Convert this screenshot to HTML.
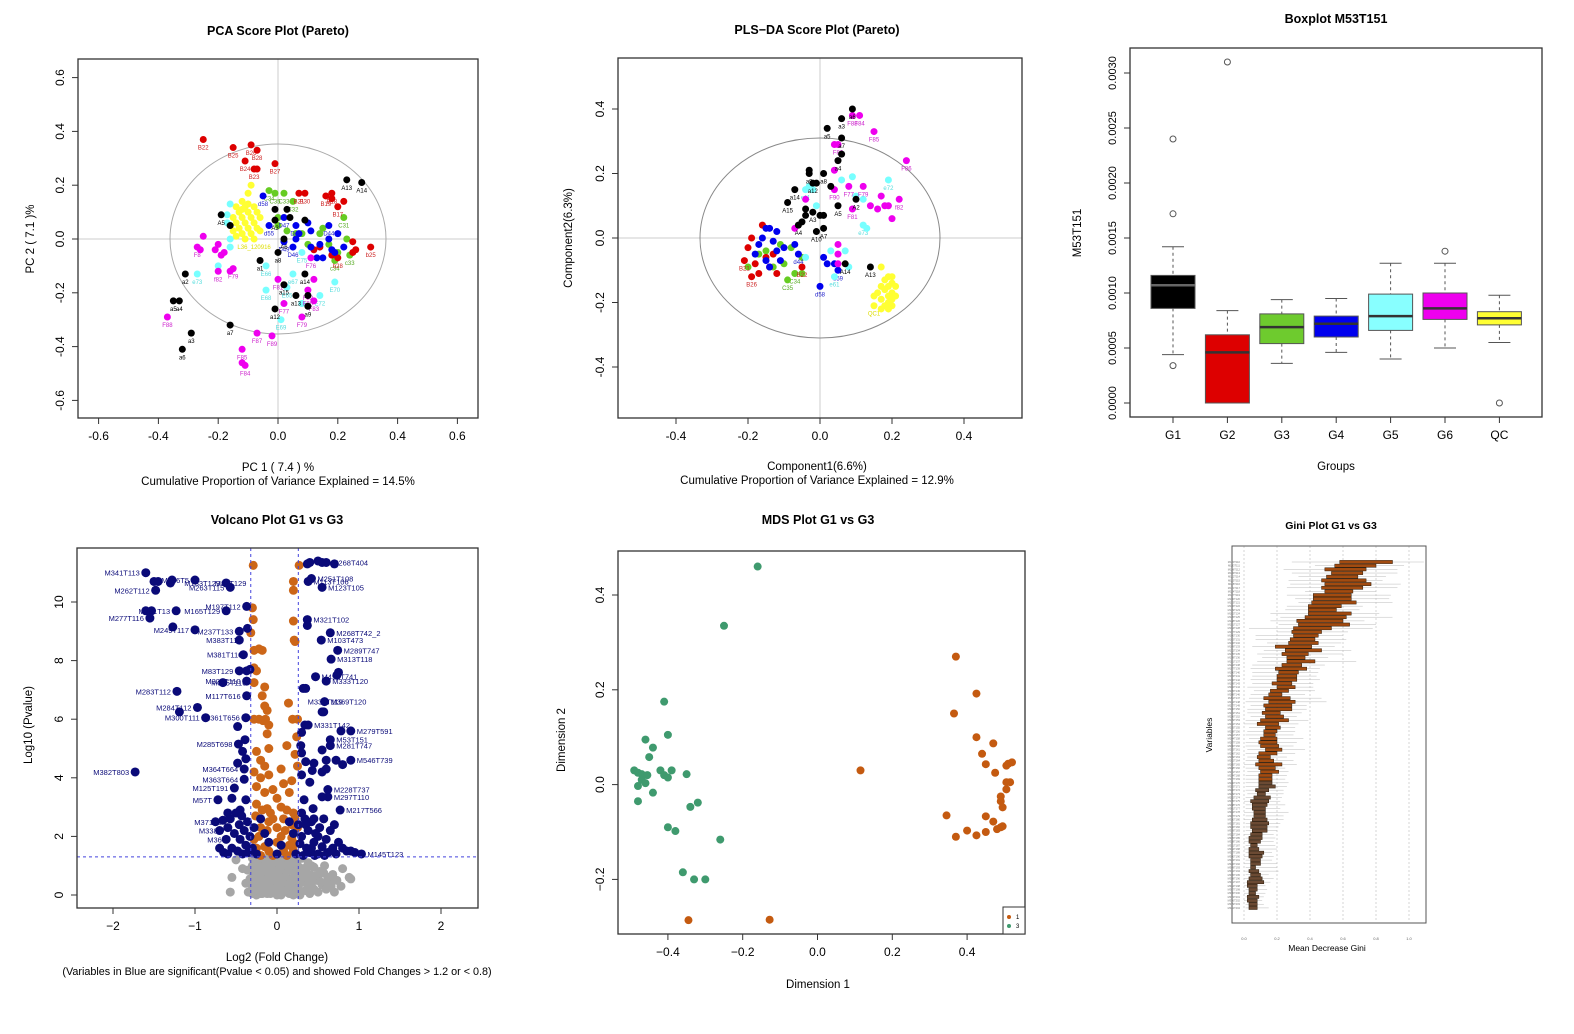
<!DOCTYPE html>
<html><head><meta charset="utf-8"><style>
html,body{margin:0;padding:0;background:#fff;}
svg{display:block;font-family:"Liberation Sans",Arial,sans-serif;}
</style></head><body>
<svg id="fig" width="1574" height="1034" viewBox="0 0 1574 1034" xmlns="http://www.w3.org/2000/svg"></svg>
<script>
// ===== PCA data [x,y,label] =====
const pcaBlack=[[0.23,0.22,'A13'],[0.28,0.21,'A14'],[-0.19,0.09,'A5'],[-0.16,0.05,''],[-0.01,0.11,''],[0.03,0.11,''],[0.04,0.08,''],[0.09,0.07,''],[-0.01,0.07,'A3'],[0.0,-0.05,'a8'],[-0.06,-0.08,'a1'],[-0.31,-0.13,'a2'],[-0.35,-0.23,'a5'],[-0.33,-0.23,'a4'],[-0.29,-0.35,'a3'],[-0.32,-0.41,'a6'],[-0.16,-0.32,'a7'],[0.09,-0.13,'a14'],[0.02,-0.17,'a15'],[0.06,-0.21,'a13'],[-0.01,-0.26,'a12'],[0.1,-0.25,'a9'],[0.1,-0.21,''],[0.02,0.0,'A6']];
const pcaRed=[[-0.25,0.37,'B22'],[-0.15,0.34,'B25'],[-0.09,0.35,'B26'],[-0.07,0.33,'B28'],[-0.11,0.29,'B24'],[-0.08,0.26,'B23'],[-0.07,0.26,''],[-0.01,0.28,'B27'],[0.07,0.17,'B21'],[0.09,0.17,'B30'],[0.16,0.16,'B19'],[0.18,0.17,'B18'],[0.18,0.15,''],[0.2,0.12,'B17'],[0.22,0.14,''],[0.31,-0.03,'b25'],[0.25,-0.01,''],[0.26,-0.04,''],[0.2,-0.07,'b28'],[0.18,-0.06,''],[0.14,-0.03,''],[0.12,-0.04,''],[0.25,-0.05,'']];
const pcaGreen=[[-0.03,0.18,'C34'],[-0.01,0.17,'C35'],[0.02,0.17,'C33'],[0.05,0.14,'C32'],[0.22,0.08,'C31'],[0.0,0.08,''],[0.0,0.05,''],[0.03,0.03,''],[0.08,0.02,''],[0.15,0.04,''],[0.14,0.02,''],[0.23,0.0,''],[0.19,-0.08,'c34'],[0.2,-0.05,''],[0.24,-0.06,'c33'],[0.1,-0.02,''],[0.17,-0.02,''],[0.06,0.02,'']];
const pcaBlue=[[-0.05,0.16,'d58'],[-0.03,0.05,'d55'],[0.02,0.08,'D47'],[0.06,0.05,'D48'],[0.07,0.02,''],[0.1,0.06,''],[0.11,0.03,''],[0.06,0.0,''],[0.17,0.05,'D44'],[0.2,0.02,''],[0.17,0.0,''],[0.18,-0.04,''],[0.22,-0.03,''],[0.14,-0.02,''],[0.11,-0.03,''],[0.02,-0.01,'D49'],[0.05,-0.03,'D46'],[0.15,-0.07,''],[0.13,-0.07,''],[0.19,-0.05,'']];
const pcaCyan=[[-0.16,0.13,''],[-0.17,0.09,''],[-0.17,0.06,''],[-0.16,0.0,''],[-0.16,-0.03,''],[-0.27,-0.13,'e73'],[-0.04,-0.1,'E66'],[-0.04,-0.19,'E68'],[0.05,-0.13,'e67'],[0.03,-0.18,'E65'],[0.01,-0.3,'E69'],[0.19,-0.16,'E70'],[0.14,-0.21,'E72'],[0.08,-0.24,''],[0.08,-0.05,'E75'],[-0.2,-0.1,'']];
const pcaMagenta=[[-0.25,0.01,''],[-0.27,-0.03,'F8'],[-0.26,-0.04,''],[-0.2,-0.02,''],[-0.21,-0.04,''],[-0.19,-0.06,''],[-0.18,-0.05,''],[-0.2,-0.12,'f82'],[-0.15,-0.11,'F79'],[-0.16,-0.12,''],[-0.37,-0.29,'F88'],[-0.07,-0.35,'F87'],[-0.02,-0.36,'F89'],[-0.12,-0.41,'F85'],[-0.12,-0.46,''],[-0.11,-0.47,'F84'],[0.0,-0.15,'F81'],[0.02,-0.24,'F77'],[0.12,-0.15,''],[0.1,-0.19,'F82'],[0.12,-0.23,'F83'],[0.08,-0.29,'F79'],[0.1,-0.21,'F80'],[0.11,-0.07,'F76']];
const pcaYellow=[[-0.09,0.2,''],[-0.1,0.17,''],[-0.12,0.14,''],[-0.14,0.12,''],[-0.11,0.12,''],[-0.08,0.12,''],[-0.13,0.1,''],[-0.1,0.1,''],[-0.07,0.1,''],[-0.15,0.08,''],[-0.12,0.08,''],[-0.09,0.08,''],[-0.06,0.08,''],[-0.14,0.06,''],[-0.11,0.06,''],[-0.08,0.06,''],[-0.13,0.04,''],[-0.1,0.04,''],[-0.07,0.04,''],[-0.15,0.03,''],[-0.12,0.02,''],[-0.09,0.02,''],[-0.06,0.03,''],[-0.14,0.01,''],[-0.11,0.0,''],[-0.08,0.0,'L36_120916'],[-0.12,0.11,''],[-0.1,0.13,'']];

// ===== PLS-DA data =====
const plsBlack=[[0.09,0.4,'a6'],[0.06,0.37,'a3'],[0.02,0.34,'a5'],[0.06,0.31,'a7'],[0.06,0.26,''],[0.05,0.24,'a4'],[-0.03,0.2,'a9'],[-0.03,0.21,''],[0.01,0.2,'a8'],[0.03,0.16,''],[-0.07,0.15,'a14'],[-0.09,0.11,'A15'],[-0.04,0.09,''],[-0.04,0.07,''],[-0.02,0.08,'A3'],[0.0,0.07,''],[0.01,0.07,''],[0.05,0.1,'A5'],[0.1,0.12,'A2'],[-0.05,0.05,''],[-0.06,0.04,'A4'],[-0.01,0.02,'A10'],[0.01,0.03,'A7'],[-0.01,0.17,''],[0.14,-0.09,'A13'],[0.07,-0.08,'A14'],[-0.02,0.17,'a12']];
const plsMagenta=[[0.09,0.38,'F88'],[0.11,0.38,'F84'],[0.15,0.33,'F85'],[0.24,0.24,'F86'],[0.04,0.29,''],[0.05,0.29,'F80'],[0.04,0.21,''],[0.04,0.15,'F90'],[0.08,0.16,'F77'],[0.12,0.16,'F79'],[0.09,0.09,'F81'],[0.17,0.13,''],[0.18,0.1,''],[0.16,0.09,''],[0.19,0.1,''],[0.22,0.12,'f82'],[0.2,0.06,''],[0.14,0.1,''],[-0.04,0.12,''],[-0.07,0.03,''],[0.05,-0.02,''],[0.05,-0.05,''],[0.05,-0.08,'']];
const plsCyan=[[-0.03,0.16,''],[-0.02,0.15,''],[0.06,0.18,''],[0.09,0.19,''],[0.19,0.18,'e72'],[0.1,0.13,''],[0.12,0.12,''],[0.12,0.04,'e73'],[0.13,0.03,''],[-0.01,0.1,''],[-0.04,0.15,'e11'],[0.03,-0.04,''],[0.07,-0.04,''],[0.04,-0.12,'e61'],[0.08,-0.09,''],[-0.04,-0.06,'']];
const plsBlue=[[-0.15,0.03,''],[-0.14,0.03,''],[-0.12,0.02,''],[-0.16,0.0,''],[-0.13,-0.01,''],[-0.1,-0.03,''],[-0.07,-0.02,''],[-0.18,-0.05,''],[-0.11,-0.07,''],[-0.15,-0.07,''],[-0.14,-0.09,''],[0.01,-0.06,''],[0.02,-0.08,''],[0.04,-0.08,''],[0.05,-0.1,'d59'],[0.0,-0.15,'d58'],[-0.06,-0.05,'d44'],[-0.17,-0.02,''],[-0.12,-0.04,'']];
const plsRed=[[-0.16,0.04,''],[-0.19,0.0,''],[-0.2,-0.03,''],[-0.21,-0.07,'B21'],[-0.18,-0.08,''],[-0.19,-0.12,'B26'],[-0.17,-0.11,''],[-0.14,-0.09,''],[-0.12,-0.11,''],[-0.15,-0.06,''],[-0.05,-0.09,'B22'],[-0.13,-0.05,'']];
const plsGreen=[[-0.17,-0.05,''],[-0.15,-0.04,''],[-0.11,-0.02,''],[-0.08,-0.03,''],[-0.05,-0.06,''],[-0.07,-0.11,'C34'],[-0.05,-0.11,''],[-0.09,-0.13,'C35'],[-0.2,-0.09,''],[-0.13,-0.09,''],[-0.1,-0.08,'']];
const plsYellow=[[0.17,-0.09,''],[0.19,-0.12,''],[0.2,-0.12,''],[0.18,-0.13,''],[0.2,-0.14,''],[0.19,-0.15,''],[0.17,-0.15,''],[0.21,-0.15,''],[0.18,-0.16,''],[0.2,-0.17,''],[0.16,-0.17,''],[0.19,-0.18,''],[0.21,-0.18,''],[0.17,-0.19,''],[0.19,-0.2,''],[0.15,-0.21,'QC1'],[0.18,-0.21,''],[0.2,-0.21,''],[0.17,-0.22,''],[0.19,-0.22,''],[0.15,-0.18,''],[0.2,-0.19,'']];

// ===== Boxplot data =====
const boxGroups=['G1','G2','G3','G4','G5','G6','QC'];
const boxQ1=[0.00086,0.0,0.00054,0.00060,0.00066,0.00076,0.00071];
const boxMed=[0.00107,0.00046,0.00069,0.00072,0.00079,0.00086,0.00077];
const boxQ3=[0.00116,0.00062,0.00081,0.00079,0.00099,0.00100,0.00083];
const boxWLo=[0.00044,0.0,0.00036,0.00046,0.00040,0.00050,0.00055];
const boxWHi=[0.00142,0.00084,0.00094,0.00095,0.00127,0.00127,0.00098];
const boxOutGroup=[0,0,0,1,5,6];
const boxOutVal=[0.0024,0.00172,0.00034,0.0031,0.00138,0.0];
const boxColors=['#000000','#dd0000','#6ecb2e','#0000ee','#88ffff','#ee00ee','#ffff33'];
const boxYTicks=[0,0.0005,0.001,0.0015,0.002,0.0025,0.003];
const boxYTickLabels=['0.0000','0.0005','0.0010','0.0015','0.0020','0.0025','0.0030'];

// ===== Volcano data =====
const volSig=[-1.6,11.0,-1.5,10.7,-1.45,10.7,-1.3,10.65,-1.28,10.75,-1.0,10.75,-0.62,10.65,-0.57,10.5,-1.48,10.4,0.37,11.3,0.4,11.35,0.5,11.4,0.55,11.35,0.6,11.35,0.7,11.3,0.42,10.8,0.38,10.7,0.55,10.5,-0.37,9.85,-1.6,9.7,-1.53,9.7,-1.23,9.7,-0.62,9.7,-1.55,9.45,-1.27,9.15,-1.0,9.05,-0.46,9.0,-0.36,9.1,0.37,9.4,0.37,9.2,0.65,8.95,0.54,8.7,-0.46,8.7,0.74,8.35,-0.41,8.2,0.66,8.05,-0.46,7.65,-0.37,7.65,-0.33,7.7,-0.37,7.3,-0.66,7.25,0.47,7.45,0.6,7.3,0.75,7.6,0.73,7.5,0.32,7.05,0.35,7.05,-1.22,6.95,-0.37,6.8,0.58,6.6,-0.97,6.4,-1.19,6.25,-0.87,6.05,-0.38,6.05,0.55,6.25,0.57,6.25,-0.48,5.75,0.34,5.8,0.38,5.8,0.3,5.55,0.78,5.6,0.9,5.6,0.65,5.3,-0.47,5.15,-0.39,5.3,0.65,5.1,-0.42,4.9,0.29,5.1,0.55,4.95,0.3,4.85,-0.38,4.65,-0.48,4.5,0.35,4.55,0.45,4.5,0.6,4.6,0.72,4.6,0.9,4.6,0.8,4.45,-1.73,4.2,-0.4,4.3,0.43,4.25,0.55,4.2,0.6,4.3,0.3,4.1,-0.4,3.95,0.4,3.85,-0.52,3.65,0.62,3.6,0.62,3.35,0.55,3.35,-0.55,3.3,-0.72,3.25,-0.38,3.25,0.33,3.25,0.44,2.95,0.77,2.9,
-0.75,2.5,-0.7,2.2,-0.66,2.55,-0.62,1.9,-0.6,2.3,-0.57,2.6,-0.55,1.6,-0.52,2.1,-0.5,2.8,-0.48,1.5,-0.46,2.4,-0.45,1.9,-0.43,2.7,-0.42,1.4,-0.4,2.2,-0.38,1.7,-0.36,2.5,-0.35,1.45,-0.33,2.0,-0.3,1.6,-0.28,2.3,-0.25,1.4,-0.2,2.6,-0.15,2.1,-0.1,1.8,0.0,1.4,0.05,1.7,0.15,2.5,0.2,2.1,0.23,1.4,0.26,2.4,0.28,1.75,0.3,2.0,0.32,1.35,0.34,2.6,0.36,1.6,0.38,2.2,0.4,1.45,0.42,2.5,0.45,1.8,0.47,2.1,0.5,1.4,0.52,2.3,0.55,1.65,0.57,2.6,0.6,1.9,0.62,1.45,0.65,2.2,0.68,1.6,0.7,2.4,0.72,1.4,0.75,1.8,0.8,1.6,0.85,1.5,0.9,1.5,0.95,1.45,1.03,1.4,-0.7,1.6,-0.65,1.45,0.66,1.5,0.58,1.35,0.46,1.35,-0.6,1.4,0.3,2.8,0.35,2.4,0.45,2.6,-0.45,2.9,-0.6,2.8,0.5,2.0,0.42,1.6];
const volOrange=[-0.29,11.25,0.27,11.25,0.2,10.7,0.2,10.4,-0.3,9.8,-0.29,9.4,0.2,9.35,-0.32,8.95,0.21,8.7,0.22,8.65,-0.28,8.35,-0.22,8.4,-0.18,8.35,-0.28,7.75,-0.25,7.65,-0.28,7.25,-0.15,7.1,-0.18,6.8,-0.15,6.45,-0.12,6.3,-0.28,6.0,-0.22,6.0,-0.17,5.95,-0.14,6.0,-0.1,5.8,0.14,6.55,0.19,6.0,0.25,6.0,-0.12,5.5,0.24,5.4,-0.1,5.0,0.12,5.1,0.22,4.8,-0.25,4.9,-0.2,4.6,-0.15,4.4,-0.28,4.2,-0.2,4.0,-0.1,4.1,0.05,4.3,0.18,3.9,0.25,4.4,-0.25,3.7,-0.15,3.5,0.0,3.3,0.15,3.5,-0.25,3.1,-0.12,2.95,0.05,3.0,0.2,2.8,0.22,2.6,-0.05,2.6,0.25,2.3,-0.2,2.3,0.1,2.2,-0.28,1.9,0.0,1.8,0.15,1.7,0.2,1.5,-0.1,1.5,
-0.26,2.7,-0.18,2.9,-0.08,2.8,0.08,2.6,0.18,2.4,-0.22,2.0,-0.12,2.2,0.05,2.0,0.18,1.95,-0.25,1.6,-0.15,1.65,0.08,1.5,0.22,1.75,-0.05,1.35,0.12,1.35,-0.2,1.35,0.0,2.3,-0.1,2.5,0.12,2.9,-0.05,3.6,0.08,3.8];
const volGray=[-0.55,0.6,-0.57,0.1,-0.5,1.2,-0.42,0.9,-0.38,0.4,-0.35,0.1,-0.3,1.0,-0.3,0.6,-0.28,0.2,-0.25,1.2,-0.22,0.8,-0.2,0.4,-0.2,0.05,-0.17,1.1,-0.15,0.6,-0.12,0.25,-0.1,0.9,-0.08,0.05,-0.05,1.2,-0.05,0.5,-0.02,0.2,0.0,0.8,0.02,1.1,0.03,0.4,0.05,0.0,0.07,0.7,0.1,1.2,0.1,0.3,0.12,0.9,0.15,0.05,0.15,0.55,0.18,1.0,0.2,0.25,0.22,0.75,0.25,1.2,0.25,0.4,0.28,0.0,0.3,0.9,0.32,0.55,0.35,0.15,0.38,1.1,0.4,0.7,0.42,0.3,0.45,0.95,0.48,0.5,0.5,0.1,0.52,0.8,0.55,0.35,0.58,1.0,0.6,0.2,0.62,0.6,0.65,0.45,0.68,0.7,0.7,0.1,0.73,0.5,0.78,0.3,0.8,0.9,0.88,0.6,0.9,0.55,-0.3,0.3,-0.25,0.0,-0.18,0.7,-0.08,0.45,0.05,1.0,0.08,0.1,0.14,0.3,0.2,0.6,0.35,0.5,0.45,0.2,-0.12,1.25,0.3,1.25,0.0,0.0,-0.15,0.15,
-0.3,0.05,-0.24,0.3,-0.18,0.55,-0.12,0.8,-0.06,1.05,0.0,1.25,0.06,0.05,0.12,0.3,0.18,0.55,0.24,0.8,-0.3,1.25,-0.24,1.05,-0.18,0.05,-0.12,0.55,-0.06,0.3,0.0,0.55,0.06,0.8,0.12,1.05,0.18,1.25,0.24,0.05,-0.3,0.8,-0.24,0.55,-0.18,0.3,-0.12,0.05,-0.06,0.8,0.0,0.3,0.06,1.25,0.12,0.55,0.18,0.3,0.24,1.05,-0.27,0.45,-0.21,0.95,-0.15,0.35,-0.09,0.65,-0.03,0.95,0.03,0.15,0.09,0.45,0.15,0.85,0.21,0.05,0.27,0.6,-0.27,0.15,-0.21,0.6,-0.15,1.0,-0.09,0.25,-0.03,0.65,0.03,1.05,0.09,0.9,0.15,1.15,0.21,0.4,0.27,0.95,0.42,1.0,0.5,0.6,0.6,0.45,0.66,0.3,
-0.28,0.7,-0.22,0.15,-0.16,0.85,-0.1,0.4,-0.04,0.1,0.02,0.65,0.08,0.35,0.14,0.95,0.2,0.0,0.26,0.25,-0.26,1.1,-0.2,0.9,-0.14,0.45,-0.08,1.15,-0.02,0.8,0.04,0.25,0.1,0.6,0.16,0.4,0.22,1.1,0.28,0.4,0.33,0.7,0.37,0.35,0.4,0.05,0.46,0.65,0.53,0.45,0.57,0.75,0.36,0.95,0.43,0.5,-0.33,0.55,-0.36,0.85];
const volLabels=[['M341T113',-1.6,11.0],['M262T112',-1.48,10.4],['M236T5',-1.0,10.75],['M133T129',-0.62,10.65],['M263T115',-0.57,10.5],['M81T129',-0.3,10.65],['M113T106',0.37,10.7],['M251T108',0.42,10.8],['M123T105',0.55,10.5],['M268T404',0.6,11.35],['M197T112',-0.37,9.85],['M165T129',-0.62,9.7],['M281T13',-1.23,9.7],['M277T116',-1.55,9.45],['M249T117',-1.0,9.05],['M237T133',-0.46,9.0],['M321T102',0.37,9.4],['M268T742_2',0.65,8.95],['M103T473',0.54,8.7],['M383T110',-0.36,8.7],['M289T747',0.74,8.35],['M381T110',-0.35,8.2],['M313T118',0.66,8.05],['M83T129',-0.46,7.65],['M323T110',-0.37,7.3],['M325T110',-0.3,7.25],['M498T741',0.47,7.45],['M333T120',0.6,7.3],['M283T112',-1.22,6.95],['M117T616',-0.37,6.8],['M331T119',0.3,6.6],['M369T120',0.58,6.6],['M284T112',-0.97,6.4],['M300T111',-0.87,6.05],['M361T656',-0.38,6.05],['M331T142',0.38,5.8],['M279T591',0.9,5.6],['M285T698',-0.47,5.15],['M53T151',0.65,5.3],['M281T747',0.65,5.1],['M546T739',0.9,4.6],['M382T803',-1.73,4.2],['M364T664',-0.4,4.3],['M363T664',-0.4,3.95],['M125T191',-0.52,3.65],['M228T737',0.62,3.6],['M297T110',0.62,3.35],['M57T',-0.72,3.25],['M217T566',0.77,2.9],['M371T6',-0.6,2.5],['M338',-0.65,2.2],['M36',-0.6,1.9],['M145T123',1.03,1.4]];

// ===== MDS data =====
const mdsG3x=[-0.16,-0.25,-0.41,-0.40,-0.46,-0.44,-0.45,-0.49,-0.48,-0.47,-0.455,-0.42,-0.41,-0.40,-0.39,-0.35,-0.47,-0.46,-0.48,-0.44,-0.48,-0.34,-0.32,-0.40,-0.38,-0.26,-0.36,-0.33,-0.30];
const mdsG3y=[0.46,0.335,0.175,0.105,0.095,0.078,0.058,0.03,0.025,0.022,0.02,0.03,0.02,0.015,0.03,0.022,0.01,0.003,-0.003,-0.017,-0.035,-0.047,-0.038,-0.09,-0.098,-0.116,-0.185,-0.2,-0.2];
const mdsG1x=[0.37,0.425,0.365,0.425,0.47,0.44,0.45,0.505,0.51,0.52,0.475,0.505,0.515,0.505,0.49,0.49,0.495,0.345,0.45,0.47,0.48,0.49,0.495,0.4,0.37,0.425,0.45,0.115,-0.345,-0.128];
const mdsG1y=[0.27,0.192,0.15,0.1,0.087,0.065,0.043,0.04,0.044,0.047,0.025,0.005,0.005,-0.01,-0.025,-0.035,-0.048,-0.065,-0.067,-0.078,-0.094,-0.09,-0.088,-0.097,-0.11,-0.107,-0.1,0.03,-0.286,-0.285];

// ===== Gini data =====
const giniLo=[0.58,0.55,0.49,0.53,0.50,0.47,0.49,0.47,0.49,0.42,0.42,0.41,0.39,0.39,0.39,0.37,0.32,0.33,0.30,0.29,0.30,0.28,0.27,0.19,0.25,0.23,0.26,0.26,0.23,0.19,0.21,0.20,0.20,0.17,0.20,0.16,0.15,0.12,0.15,0.12,0.13,0.11,0.13,0.10,0.08,0.13,0.12,0.12,0.10,0.09,0.10,0.13,0.09,0.08,0.09,0.07,0.09,0.10,0.09,0.09,0.09,0.09,0.07,0.08,0.06,0.04,0.05,0.05,0.06,0.06,0.05,0.04,0.04,0.05,0.04,0.03,0.03,0.04,0.03,0.03,0.03,0.04,0.04,0.04,0.03,0.04,0.03,0.02,0.02,0.03,0.03,0.02,0.02,0.03,0.03];
const giniHi=[0.90,0.80,0.74,0.72,0.69,0.74,0.77,0.72,0.66,0.65,0.65,0.68,0.59,0.56,0.65,0.62,0.60,0.64,0.53,0.47,0.45,0.43,0.45,0.41,0.47,0.39,0.37,0.43,0.35,0.38,0.33,0.32,0.32,0.29,0.31,0.27,0.23,0.28,0.31,0.29,0.29,0.22,0.24,0.27,0.21,0.22,0.20,0.19,0.20,0.20,0.21,0.23,0.20,0.16,0.18,0.23,0.19,0.21,0.17,0.17,0.17,0.19,0.15,0.13,0.16,0.15,0.14,0.13,0.13,0.13,0.14,0.15,0.14,0.14,0.11,0.11,0.10,0.08,0.09,0.12,0.11,0.10,0.10,0.07,0.09,0.10,0.11,0.12,0.08,0.08,0.07,0.09,0.08,0.08,0.08];
const giniWLo=[0.29,0.43,0.24,0.29,0.33,0.27,0.28,0.26,0.37,0.26,0.31,0.33,0.26,0.25,0.16,0.22,0.16,0.21,0.03,0.20,0.07,0.07,0.14,0.05,0.12,0.08,0.11,0.08,0.05,0.04,0.05,0.05,0.04,0.05,0.02,0.06,0.04,0.03,0.01,0.04,0.02,0.02,0.04,0.01,0.00,0.03,0.02,0.01,0.03,0.01,0.01,0.02,0.01,0.02,0.01,0.00,0.01,0.02,0.01,0.01,0.01,0.01,0.01,0.02,0.01,0.00,0.01,0.01,0.00,0.01,0.00,0.01,0.01,0.01,0.00,0.01,0.00,0.01,0.00,0.01,0.00,0.01,0.00,0.01,0.00,0.01,0.00,0.01,0.00,0.01,0.00,0.01,0.00,0.01,0.01];
const giniWHi=[1.09,0.97,0.93,0.93,0.86,0.84,0.95,0.93,0.80,0.89,0.88,0.90,0.72,0.70,0.82,0.90,0.73,0.80,0.78,0.63,0.60,0.62,0.59,0.55,0.65,0.60,0.51,0.68,0.49,0.46,0.45,0.44,0.46,0.42,0.42,0.43,0.37,0.47,0.50,0.38,0.38,0.35,0.32,0.39,0.33,0.31,0.31,0.30,0.36,0.32,0.30,0.37,0.31,0.26,0.30,0.32,0.25,0.27,0.26,0.25,0.27,0.26,0.24,0.24,0.23,0.22,0.25,0.22,0.27,0.24,0.24,0.22,0.21,0.20,0.18,0.19,0.18,0.19,0.20,0.17,0.18,0.17,0.20,0.20,0.21,0.15,0.18,0.16,0.13,0.14,0.13,0.12,0.11,0.12,0.15];
const giniTicks=[0,0.2,0.4,0.6,0.8,1.0];
const giniTickLabels=['0.0','0.2','0.4','0.6','0.8','1.0'];

// ===== helpers =====
const NS='http://www.w3.org/2000/svg';
const svg=document.getElementById('fig');
function mk(tag,attrs,parent){const e=document.createElementNS(NS,tag);for(const k in attrs)e.setAttribute(k,attrs[k]);(parent||svg).appendChild(e);return e;}
function txt(x,y,s,size,opts,parent){opts=opts||{};const a={x:x,y:y,'font-size':size,fill:opts.fill||'#000','text-anchor':opts.anchor||'middle'};if(opts.bold)a['font-weight']='bold';if(opts.rot)a.transform='rotate(-90 '+x+' '+y+')';const t=mk('text',a,parent);t.textContent=s;return t;}
function lin(d0,r0,k){return v=>r0+(v-d0)*k;}
function frame(x0,y0,x1,y1,g){const r=mk('rect',{x:x0,y:y0,width:x1-x0,height:y1-y0,fill:'none',stroke:'#333','stroke-width':1.3},g);}
function xTicks(vals,labs,sx,yb,g,fs){vals.forEach((v,i)=>{mk('line',{x1:sx(v),x2:sx(v),y1:yb,y2:yb+6,stroke:'#333'},g);const t=txt(sx(v),yb+22,labs[i],fs||12,{},g);});mk('line',{x1:sx(vals[0]),x2:sx(vals[vals.length-1]),y1:yb,y2:yb,stroke:'#333'},g);}
function yTicks(vals,labs,sy,xl,g,fs){vals.forEach((v,i)=>{mk('line',{x1:xl,x2:xl-6,y1:sy(v),y2:sy(v),stroke:'#333'},g);const t=txt(xl-14,sy(v),labs[i],fs||12,{rot:true},g);});mk('line',{x1:xl,x2:xl,y1:sy(vals[0]),y2:sy(vals[vals.length-1]),stroke:'#333'},g);}
function group(name){const g=mk('g',{});return g;}
function scatterGroup(pts,sx,sy,col,lab,g){pts.forEach(p=>{const c=mk('circle',{cx:sx(p[0]),cy:sy(p[1]),r:3.5,fill:col},g);if(p[2]){const t=txt(sx(p[0]),sy(p[1])+10,p[2],6,{fill:lab},g);}});}

// ===== PCA panel =====
(function(){
const g=group('pca-score-plot');
const sx=lin(0,278,299),sy=lin(0,239,-269);
txt(278,35,'PCA Score Plot (Pareto)',12.5,{bold:true},g);
mk('line',{x1:78,x2:478,y1:sy(0),y2:sy(0),stroke:'#ccc'},g);
mk('line',{x1:sx(0),x2:sx(0),y1:59,y2:418,stroke:'#ccc'},g);
const el=mk('ellipse',{cx:sx(0),cy:sy(0),rx:108,ry:95,fill:'none',stroke:'#aaa'},g);
scatterGroup(pcaYellow,sx,sy,'#ffff33','#dddd00',g);
scatterGroup(pcaCyan,sx,sy,'#77ffff','#55dddd',g);
scatterGroup(pcaGreen,sx,sy,'#66cc22','#55aa22',g);
scatterGroup(pcaRed,sx,sy,'#dd0000','#cc2222',g);
scatterGroup(pcaBlue,sx,sy,'#0000ee','#2222cc',g);
scatterGroup(pcaMagenta,sx,sy,'#ee00ee','#cc22cc',g);
scatterGroup(pcaBlack,sx,sy,'#000000','#000',g);
frame(78,59,478,418,g);
xTicks([-0.6,-0.4,-0.2,0,0.2,0.4,0.6],['-0.6','-0.4','-0.2','0.0','0.2','0.4','0.6'],sx,418,g);
yTicks([-0.6,-0.4,-0.2,0,0.2,0.4,0.6],['-0.6','-0.4','-0.2','0.0','0.2','0.4','0.6'],sy,78,g);
txt(278,471,'PC 1  ( 7.4 ) %',11.5,{},g);
txt(278,485,'Cumulative Proportion of Variance Explained = 14.5%',11.5,{},g);
txt(34,239,'PC 2  ( 7.1 )%',11.5,{rot:true},g);
})();

// ===== PLS-DA panel =====
(function(){
const g=group('plsda-score-plot');
const sx=lin(0,820,360),sy=lin(0,238,-322.5);
txt(817,34,'PLS\u2212DA Score Plot (Pareto)',12.5,{bold:true},g);
mk('line',{x1:618,x2:1022,y1:sy(0),y2:sy(0),stroke:'#ccc'},g);
mk('line',{x1:sx(0),x2:sx(0),y1:58,y2:418,stroke:'#ccc'},g);
const el=mk('ellipse',{cx:sx(0),cy:sy(0),rx:120,ry:100,fill:'none',stroke:'#888'},g);
scatterGroup(plsYellow,sx,sy,'#ffff33','#dddd00',g);
scatterGroup(plsGreen,sx,sy,'#66cc22','#55aa22',g);
scatterGroup(plsRed,sx,sy,'#dd0000','#cc2222',g);
scatterGroup(plsBlue,sx,sy,'#0000ee','#2222cc',g);
scatterGroup(plsCyan,sx,sy,'#77ffff','#55dddd',g);
scatterGroup(plsMagenta,sx,sy,'#ee00ee','#cc22cc',g);
scatterGroup(plsBlack,sx,sy,'#000000','#000',g);
frame(618,58,1022,418,g);
xTicks([-0.4,-0.2,0,0.2,0.4],['-0.4','-0.2','0.0','0.2','0.4'],sx,418,g);
yTicks([-0.4,-0.2,0,0.2,0.4],['-0.4','-0.2','0.0','0.2','0.4'],sy,618,g);
txt(817,470,'Component1(6.6%)',11.5,{},g);
txt(817,484,'Cumulative Proportion of Variance Explained = 12.9%',11.5,{},g);
txt(572,238,'Component2(6.3%)',11.5,{rot:true},g);
})();

// ===== Boxplot panel =====
(function(){
const g=group('boxplot-m53t151');
const sy=lin(0,403,-110000);const gx=i=>1173+i*54.4;
txt(1336,23,'Boxplot M53T151',12.5,{bold:true},g);
boxGroups.forEach((name,i)=>{
 const x=gx(i),w=22;
 mk('line',{x1:x,x2:x,y1:sy(boxWHi[i]),y2:sy(boxQ3[i]),stroke:'#555','stroke-dasharray':'3,3'},g);
 mk('line',{x1:x,x2:x,y1:sy(boxQ1[i]),y2:sy(boxWLo[i]),stroke:'#555','stroke-dasharray':'3,3'},g);
 mk('line',{x1:x-11,x2:x+11,y1:sy(boxWHi[i]),y2:sy(boxWHi[i]),stroke:'#555'},g);
 mk('line',{x1:x-11,x2:x+11,y1:sy(boxWLo[i]),y2:sy(boxWLo[i]),stroke:'#555'},g);
 const b=mk('rect',{x:x-w,y:sy(boxQ3[i]),width:2*w,height:sy(boxQ1[i])-sy(boxQ3[i]),fill:boxColors[i],stroke:'#555'},g);
 
 
 mk('line',{x1:x-w,x2:x+w,y1:sy(boxMed[i]),y2:sy(boxMed[i]),stroke:i===0?'#666':'#333','stroke-width':2.5},g);
});
boxOutVal.forEach((v,j)=>{const c=mk('circle',{cx:gx(boxOutGroup[j]),cy:sy(v),r:3,fill:'none',stroke:'#555'},g);});
frame(1130,48,1542,417,g);
xTicks([0,1,2,3,4,5,6],boxGroups,gx,417,g);
yTicks(boxYTicks,boxYTickLabels,sy,1130,g,11);
txt(1336,470,'Groups',11.5,{},g);
txt(1081,233,'M53T151',11.5,{rot:true},g);
})();

// ===== Volcano panel =====
(function(){
const g=group('volcano-plot');
const sx=lin(0,277,82),sy=lin(0,895,-29.3);
txt(277,524,'Volcano Plot G1 vs G3',12.5,{bold:true},g);
for(let i=0;i<volGray.length;i+=2){const c=mk('circle',{cx:sx(volGray[i]),cy:sy(volGray[i+1]),r:4.5,fill:'#a6a6a6'},g);}
for(let i=0;i<volOrange.length;i+=2){const c=mk('circle',{cx:sx(volOrange[i]),cy:sy(volOrange[i+1]),r:4.5,fill:'#cc6618'},g);}
for(let i=0;i<volSig.length;i+=2){const c=mk('circle',{cx:sx(volSig[i]),cy:sy(volSig[i+1]),r:4.5,fill:'#0a0a78'},g);}
volLabels.forEach(l=>{const left=l[1]<0;const t=txt(sx(l[1])+(left?-6:6),sy(l[2])+3,l[0],7.5,{fill:'#0a0a78',anchor:left?'end':'start'},g);});
mk('line',{x1:77,x2:478,y1:sy(1.3),y2:sy(1.3),stroke:'#4444dd','stroke-dasharray':'3,3'},g);
mk('line',{x1:sx(-0.32),x2:sx(-0.32),y1:548,y2:908,stroke:'#4444dd','stroke-dasharray':'3,3'},g);
mk('line',{x1:sx(0.26),x2:sx(0.26),y1:548,y2:908,stroke:'#4444dd','stroke-dasharray':'3,3'},g);
frame(77,548,478,908,g);
xTicks([-2,-1,0,1,2],['\u22122','\u22121','0','1','2'],sx,908,g);
yTicks([0,2,4,6,8,10],['0','2','4','6','8','10'],sy,77,g);
txt(277,961,'Log2 (Fold Change)',11.5,{},g);
txt(277,975,'(Variables in Blue are significant(Pvalue < 0.05) and showed Fold Changes > 1.2 or < 0.8)',10.8,{},g);
txt(32,725,'Log10 (Pvalue)',11.5,{rot:true},g);
})();

// ===== MDS panel =====
(function(){
const g=group('mds-plot');
const sx=lin(0,817.5,374),sy=lin(0,784.6,-474);
txt(818,524,'MDS Plot G1 vs G3',12.5,{bold:true},g);
mdsG3x.forEach((x,i)=>{const c=mk('circle',{cx:sx(x),cy:sy(mdsG3y[i]),r:4,fill:'#3f9a6e'},g);});
mdsG1x.forEach((x,i)=>{const c=mk('circle',{cx:sx(x),cy:sy(mdsG1y[i]),r:4,fill:'#c45a10'},g);});
frame(618,551,1025,934,g);
xTicks([-0.4,-0.2,0,0.2,0.4],['\u22120.4','\u22120.2','0.0','0.2','0.4'],sx,934,g);
yTicks([-0.2,0,0.2,0.4],['\u22120.2','0.0','0.2','0.4'],sy,618,g);
txt(818,988,'Dimension 1',11.5,{},g);
txt(565,740,'Dimension 2',11.5,{rot:true},g);
const lg=mk('g',{},g);
mk('rect',{x:1003,y:907,width:22,height:27,fill:'#fff',stroke:'#333'},lg);
mk('circle',{cx:1009,cy:917,r:2,fill:'#c45a10'},lg);txt(1016,919,'1',6,{anchor:'start'},lg);
mk('circle',{cx:1009,cy:926,r:2,fill:'#3f9a6e'},lg);txt(1016,928,'3',6,{anchor:'start'},lg);
})();

// ===== Gini panel =====
(function(){
const g=group('gini-plot');
const sx=lin(0,1244,165);const ry=i=>562+i*3.68;
txt(1331,529,'Gini Plot G1 vs G3',10.5,{bold:true},g);
giniTicks.forEach(v=>mk('line',{x1:sx(v),x2:sx(v),y1:546,y2:922,stroke:'#bbb','stroke-dasharray':'2,2','stroke-width':0.6},g));
giniLo.forEach((lo,i)=>{
 const y=ry(i);
 mk('line',{x1:sx(giniWLo[i]),x2:sx(giniWHi[i]),y1:y,y2:y,stroke:'#bbb','stroke-width':0.5},g);
 const b=mk('rect',{x:sx(lo),y:y-1.6,width:sx(giniHi[i])-sx(lo),height:3.2,fill:i<60?'#a24b10':'#6b4a33',stroke:'#2e1d0c','stroke-width':0.5},g);
 
 
 const t=txt(1240,y+1,'M'+(100+i*3)+'T'+(110+i),2.6,{fill:'#777',anchor:'end'},g);
 
 
});
mk('rect',{x:1232,y:546,width:194,height:377,fill:'none',stroke:'#555','stroke-width':1},g);
giniTicks.forEach((v,i)=>{const t=txt(sx(v),940,giniTickLabels[i],4,{fill:'#666'},g);});
txt(1327,951,'Mean Decrease Gini',8.5,{},g);
txt(1212,735,'Variables',8.5,{rot:true},g);
})();
</script>
</body></html>
